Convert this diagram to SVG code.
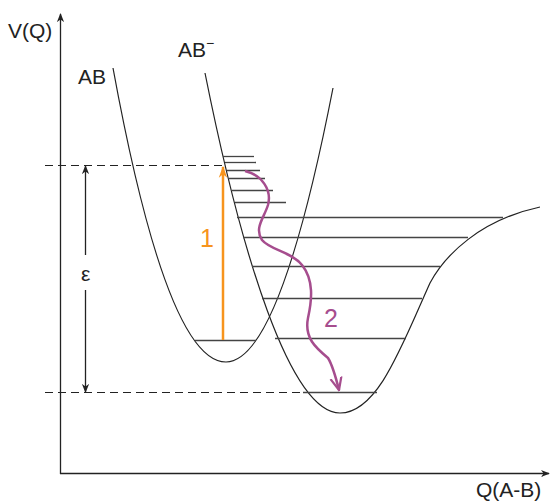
<svg xmlns="http://www.w3.org/2000/svg" width="551" height="501" viewBox="0 0 551 501">
<style>
.axis{stroke:#222;stroke-width:1.3;fill:none}
.curve{stroke:#222;stroke-width:1.2;fill:none}
.lvl{stroke:#444;stroke-width:1.3}
.dash{stroke:#222;stroke-width:1.2;stroke-dasharray:8 5}
.lbl{font-family:"Liberation Sans",Arial,sans-serif;font-size:21px;fill:#222}
.num{font-family:"Liberation Sans",Arial,sans-serif;font-size:25px}
</style>
<defs>
<marker id="ah" viewBox="0 0 10 10" refX="9" refY="5" markerWidth="9" markerHeight="9" markerUnits="userSpaceOnUse" orient="auto">
<path d="M0,1 L10,5 L0,9 L3,5 Z" fill="#222"/>
</marker>
<marker id="ao" viewBox="0 0 10 10" refX="9" refY="5" markerWidth="12" markerHeight="12" markerUnits="userSpaceOnUse" orient="auto">
<path d="M0,1.5 L10,5 L0,8.5 L3,5 Z" fill="#F7941D"/>
</marker>
<marker id="ap" viewBox="0 0 10 10" refX="9" refY="5" markerWidth="14" markerHeight="14" markerUnits="userSpaceOnUse" orient="auto">
<path d="M0,1 L9,5 L0,9" fill="none" stroke="#A64D8E" stroke-width="1.6"/>
</marker>
</defs>
<g id="axes">
<line class="axis" x1="60.5" y1="474" x2="60.5" y2="14" marker-end="url(#ah)"/>
<line class="axis" x1="60" y1="473.5" x2="549" y2="473.5" marker-end="url(#ah)"/>
<text class="lbl" x="8" y="38">V(Q)</text>
<text class="lbl" x="476" y="497">Q(A-B)</text>
</g>
<g id="curve-AB">
<path class="curve" d="M113,68 Q167,362 226,362 Q279.5,362 333,88"/>
<line class="lvl" x1="195" y1="340.5" x2="256" y2="340.5"/>
<text class="lbl" x="78" y="84">AB</text>
</g>
<g id="curve-ABminus">
<path class="curve" d="M205,73 C241,253 290,413 340,413 C378,413 402,345 430,283 C445,255 480,220 540,207"/>
<line class="lvl" x1="223" y1="156.5" x2="254" y2="156.5"/>
<line class="lvl" x1="225" y1="162.5" x2="256" y2="162.5"/>
<line class="lvl" x1="227" y1="170.5" x2="260" y2="170.5"/>
<line class="lvl" x1="229" y1="178.5" x2="265" y2="178.5"/>
<line class="lvl" x1="232" y1="190.5" x2="273" y2="190.5"/>
<line class="lvl" x1="235" y1="202.5" x2="286" y2="202.5"/>
<line class="lvl" x1="237" y1="217.5" x2="503" y2="217.5"/>
<line class="lvl" x1="243" y1="237.5" x2="468" y2="237.5"/>
<line class="lvl" x1="252" y1="266.5" x2="440" y2="266.5"/>
<line class="lvl" x1="262" y1="298.5" x2="422" y2="298.5"/>
<line class="lvl" x1="275" y1="338.5" x2="406" y2="338.5"/>
<line class="lvl" x1="303" y1="392.5" x2="377" y2="392.5"/>
<text class="lbl" x="178" y="57">AB<tspan font-size="14" dy="-9">−</tspan></text>
</g>
<g id="connectors">
<line class="dash" x1="45" y1="165.5" x2="224" y2="165.5"/>
<line class="dash" x1="45" y1="392.5" x2="303" y2="392.5"/>
<line class="axis" x1="85.5" y1="255" x2="85.5" y2="166" marker-end="url(#ah)"/>
<line class="axis" x1="85.5" y1="290" x2="85.5" y2="392" marker-end="url(#ah)"/>
<text class="lbl" x="81" y="281">ε</text>
<line x1="223" y1="340" x2="223" y2="167" stroke="#F7941D" stroke-width="2.5" marker-end="url(#ao)"/>
<text class="num" x="200" y="247" fill="#F7941D">1</text>
<path d="M245,171 C262,175 272,190 268,205 C264,218 254,228 262,240 C270,250 292,252 302,265 C314,280 312,300 308,318 C304,338 316,348 328,358 C333,366 336,378 339,390" fill="none" stroke="#A64D8E" stroke-width="2.5" marker-end="url(#ap)"/>
<text class="num" x="324" y="327" fill="#A64D8E">2</text>
</g>
</svg>
